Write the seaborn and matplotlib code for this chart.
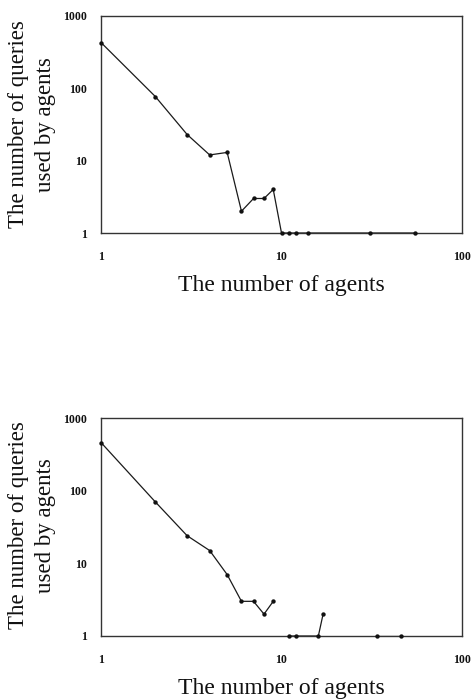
import numpy as np
import pandas as pd
import matplotlib
matplotlib.use("Agg")
import matplotlib.pyplot as plt
import seaborn as sns

# ---- data ----
top_agents = [1, 2, 3, 4, 5, 6, 7, 8, 9, 10, 11, 12, 14, 31, 55]
top_queries = [430, 77, 23, 12, 13, 2, 3, 3, 4, 1, 1, 1, 1, 1, 1]

bottom_agents = [1, 2, 3, 4, 5, 6, 7, 8, 9, 10, 11, 12, 16, 17, 18, 34, 46]
bottom_queries = [460, 70, 24, 15, 7, 3, 3, 2, 3, np.nan, 1, 1, 1, 2, np.nan, 1, 1]

x_ticks = [1, 10, 100]
x_tick_labels = ["1", "10", "100"]
y_ticks = [1, 10, 100, 1000]
y_tick_labels = ["1", "10", "100", "1000"]

x_label = "The number of agents"
y_label = "The number of queries\nused by agents"

sns.set_theme(style="white")
plt.rcParams["font.family"] = ["Liberation Serif", "DejaVu Serif"]

fig = plt.figure(figsize=(4.72, 7.0), dpi=100)
ax_top = fig.add_axes([101 / 472, 1 - 233 / 700, 361 / 472, 217 / 700])
ax_bot = fig.add_axes([101 / 472, 1 - 636 / 700, 361 / 472, 218 / 700])


def draw(ax, xs, ys, ylab_y):
    df = pd.DataFrame({"agents": xs, "queries": ys})
    df["seg"] = df["queries"].isna().cumsum()
    df_ok = df.dropna()
    sns.lineplot(data=df_ok, x="agents", y="queries", units="seg",
                 estimator=None, color="#1a1a1a", linewidth=0.9, ax=ax,
                 legend=False)
    sns.scatterplot(data=df_ok, x="agents", y="queries", color="#111111",
                    s=10, linewidth=0, ax=ax, legend=False, zorder=5)
    for c in ax.collections:
        c.set_clip_on(False)
    ax.set_xscale("log")
    ax.set_yscale("log")
    ax.set_xlim(1, 100)
    ax.set_ylim(1, 1000)
    ax.set_xticks(x_ticks)
    ax.set_xticklabels(x_tick_labels)
    ax.set_yticks(y_ticks)
    ax.set_yticklabels(y_tick_labels)
    ax.minorticks_off()
    ax.tick_params(axis="both", length=0, labelsize=8.5, colors="#111111")
    ax.tick_params(axis="y", pad=10)
    ax.tick_params(axis="x", pad=13)
    for lab in ax.get_xticklabels() + ax.get_yticklabels():
        lab.set_fontweight("bold")
    for sp in ax.spines.values():
        sp.set_visible(True)
        sp.set_color("#333333")
        sp.set_linewidth(1.0)
    ax.set_xlabel(x_label, fontsize=17, color="#111111", va="center")
    ax.xaxis.set_label_coords(0.5, -0.24)
    ax.set_ylabel(y_label, fontsize=16.5, color="#111111", va="center",
                  ha="center", linespacing=1.38)
    ax.yaxis.set_label_coords(-0.19, ylab_y)
    ax.grid(False)


draw(ax_top, top_agents, top_queries, 0.50)
draw(ax_bot, bottom_agents, bottom_queries, 0.507)

fig.savefig("out.png", dpi=100)
